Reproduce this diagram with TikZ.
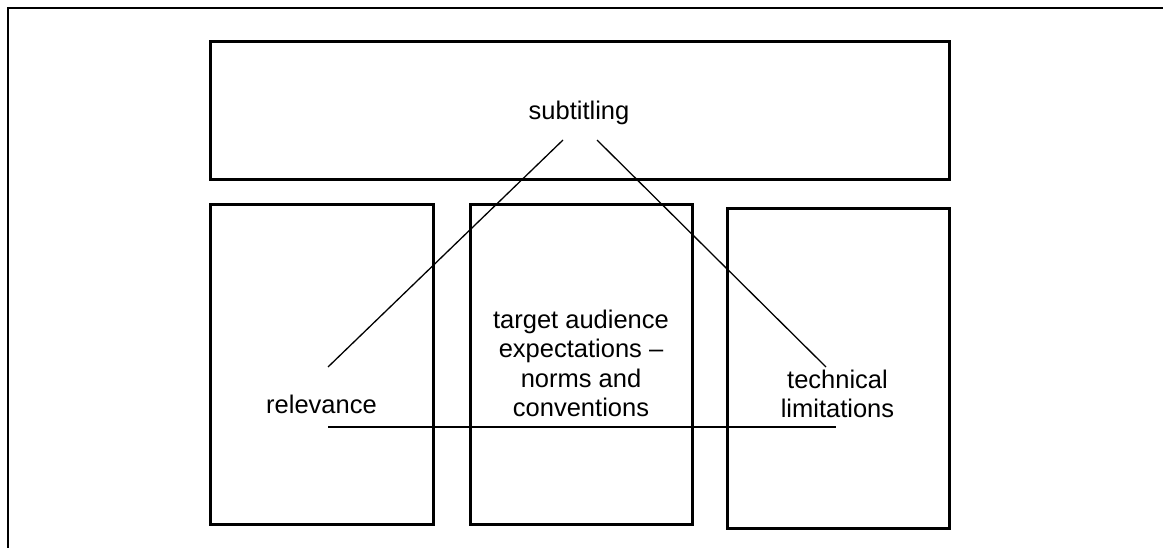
\documentclass[tikz,border=0pt]{standalone}
\usepackage{fontspec}
\setmainfont{Liberation Sans}
\begin{document}
\begin{tikzpicture}[x=1pt,y=-1pt,
  panel/.style={draw=black, line width=3pt, inner sep=0pt, rectangle},
  label/.style={inner sep=0pt, align=center, font=\fontsize{25.5}{29.5}\selectfont},
  link/.style={draw=black, line width=1.3pt}]
  \useasboundingbox (0,0) rectangle (1163,548);
  % outer frame (top and left edges)
  \draw[line width=2.4pt] (8,560) -- (8,8) -- (1175,8);

  % boxes
  \node[panel, minimum width=739pt, minimum height=138pt] (top) at (579.5,111) {};
  \node[panel, minimum width=223pt, minimum height=319pt] (left) at (321.5,364.5) {};
  \node[panel, minimum width=222pt, minimum height=319pt] (mid) at (581,364.5) {};
  \node[panel, minimum width=222pt, minimum height=319pt] (right) at (838,368.5) {};

  % texts
  \node[label, anchor=base] (subt) at (579,120) {subtitling};
  \node[label, anchor=base] (rel) at (321.5,413) {relevance};
  \node[label, anchor=north] (aud) at (581,309.5) {target audience\\expectations –\\norms and\\conventions};
  \node[label, anchor=north] (tech) at (837.5,369.5) {technical\\limitations};

  % connector end points
  \coordinate (subtL) at (563,140);
  \coordinate (subtR) at (597,140);
  \coordinate (relT) at (328,367);
  \coordinate (relB) at (328,427);
  \coordinate (techT) at (826,367);
  \coordinate (techB) at (836,427);

  % connectors
  \draw[link] (subtL) -- (relT);
  \draw[link] (subtR) -- (techT);
  \draw[link] (relB) -- (techB);
\end{tikzpicture}
\end{document}
